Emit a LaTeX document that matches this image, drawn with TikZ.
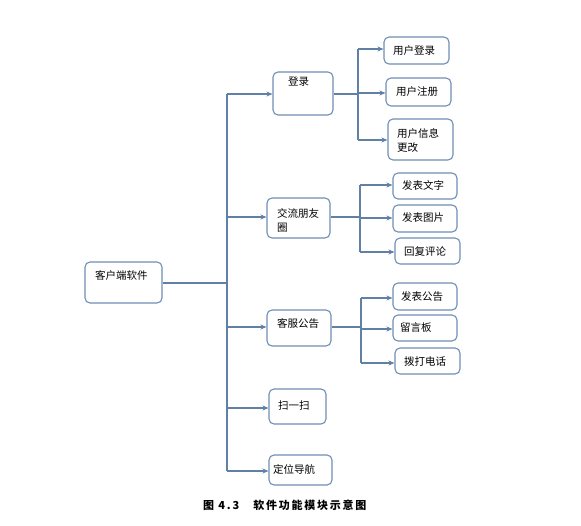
\documentclass[tikz,border=0pt]{standalone}
\usepackage{fontspec}
\setmainfont{Noto Sans CJK SC}
\newfontfamily\capfont[LetterSpace=16]{Noto Sans CJK SC}
\usetikzlibrary{arrows.meta,fit}
\definecolor{linec}{RGB}{96,128,166}
\definecolor{boxc}{RGB}{110,142,180}
\tikzset{
  box/.style={draw=boxc, line width=1.1pt, rounded corners=5pt, inner sep=0pt},
  txt/.style={font=\fontsize{10.5}{14}\selectfont, inner sep=0pt, anchor=west, align=left},
  conn/.style={draw=linec, line width=1.1pt},
  arr/.style={conn, -{Stealth[length=6pt,width=5pt]}}
}
\begin{document}
\begin{tikzpicture}[x=1pt,y=-1pt]
\path[use as bounding box] (0,0) rectangle (581,525);
% boxes
\node[box, fit={(85,262) (162,303)}] (root) {};
\node[box, fit={(273,72) (333,115)}] (login) {};
\node[box, fit={(267,198) (330,238)}] (friend) {};
\node[box, fit={(267,310) (331,346)}] (kefu) {};
\node[box, fit={(269,389) (326,424)}] (scan) {};
\node[box, fit={(269,455) (332,485)}] (nav) {};
\node[box, fit={(384,37) (449,64)}] (u1) {};
\node[box, fit={(386,78) (451,106)}] (u2) {};
\node[box, fit={(388,119) (453,160)}] (u3) {};
\node[box, fit={(393,173) (457,199)}] (f1) {};
\node[box, fit={(393,205) (457,232)}] (f2) {};
\node[box, fit={(395,238) (460,264)}] (f3) {};
\node[box, fit={(393,283) (457,310)}] (k1) {};
\node[box, fit={(393,315) (457,341)}] (k2) {};
\node[box, fit={(395,348) (460,374)}] (k3) {};
% texts
\node[txt] (root-t) at (95,275) {客户端软件};
\node[txt] (login-t) at (288,82) {登录};
\node[txt] (friend-t) at (277,220) {交流朋友\\圈};
\node[txt] (kefu-t) at (277,324) {客服公告};
\node[txt] (scan-t) at (278,406) {扫一扫};
\node[txt] (nav-t) at (273,469) {定位导航};
\node[txt] (u1-t) at (393,51) {用户登录};
\node[txt] (u2-t) at (396,92) {用户注册};
\node[txt] (u3-t) at (397,140) {用户信息\\更改};
\node[txt] (f1-t) at (402,185) {发表文字};
\node[txt] (f2-t) at (402,218) {发表图片};
\node[txt] (f3-t) at (404,251) {回复评论};
\node[txt] (k1-t) at (401,297) {发表公告};
\node[txt] (k2-t) at (400,328) {留言板};
\node[txt] (k3-t) at (404,362) {拨打电话};
% main trunk
\coordinate (rj) at (227,283);
\coordinate (t1) at (227,94);
\coordinate (t2) at (227,217);
\coordinate (t3) at (227,327);
\coordinate (t4) at (227,408);
\coordinate (t5) at (227,471);
\draw[conn] (root.east |- rj) -- (rj);
\draw[conn] (t1) -- (t5);
\draw[arr] (t1) -- (t1 -| login.west);
\draw[arr] (t2) -- (t2 -| friend.west);
\draw[arr] (t3) -- (t3 -| kefu.west);
\draw[arr] (t4) -- (t4 -| scan.west);
\draw[arr] (t5) -- (t5 -| nav.west);
% login branch
\coordinate (lj) at (358,94);
\coordinate (l1) at (358,49);
\coordinate (l2) at (358,93);
\coordinate (l3) at (358,140);
\draw[conn] (login.east |- lj) -- (lj);
\draw[conn] (l1) -- (l3);
\draw[arr] (l1) -- (l1 -| u1.west);
\draw[arr] (l2) -- (l2 -| u2.west);
\draw[arr] (l3) -- (l3 -| u3.west);
% friend branch
\coordinate (fj) at (360,217);
\coordinate (fa) at (360,185);
\coordinate (fb) at (360,218);
\coordinate (fc) at (360,252);
\draw[conn] (friend.east |- fj) -- (fj);
\draw[conn] (fa) -- (fc);
\draw[arr] (fa) -- (fa -| f1.west);
\draw[arr] (fb) -- (fb -| f2.west);
\draw[arr] (fc) -- (fc -| f3.west);
% kefu branch
\coordinate (kj) at (361,327);
\coordinate (ka) at (361,298);
\coordinate (kb) at (361,329);
\coordinate (kc) at (361,363);
\draw[conn] (kefu.east |- kj) -- (kj);
\draw[conn] (ka) -- (kc);
\draw[arr] (ka) -- (ka -| k1.west);
\draw[arr] (kb) -- (kb -| k2.west);
\draw[arr] (kc) -- (kc -| k3.west);
% caption
\node[inner sep=0pt, anchor=west, font=\capfont\bfseries\fontsize{11}{13}\selectfont] (cap) at (203,505) {图 4.3\hspace{14pt}软件功能模块示意图};
\end{tikzpicture}
\end{document}
